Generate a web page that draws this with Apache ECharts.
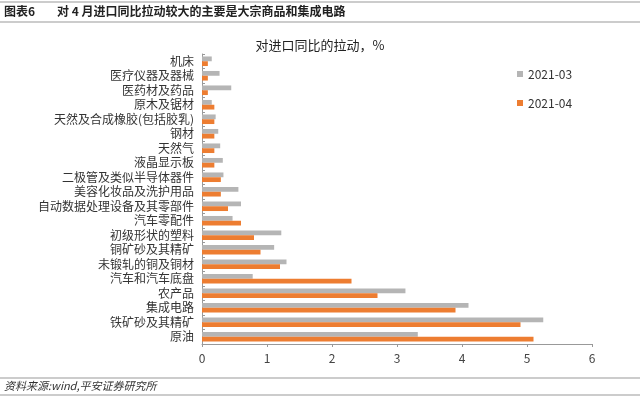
<!DOCTYPE html>
<html><head><meta charset="utf-8">
<script src="https://cdn.jsdelivr.net/npm/echarts@6/dist/echarts.min.js"></script>
<style>html,body{margin:0;padding:0;background:#fff}#c{width:640px;height:397px}</style>
</head><body><div id="c"></div>
<script>
var categories = ['机床','医疗仪器及器械','医药材及药品','原木及锯材','天然及合成橡胶(包括胶乳)','钢材','天然气','液晶显示板','二极管及类似半导体器件','美容化妆品及洗护用品','自动数据处理设备及其零部件','汽车零配件','初级形状的塑料','铜矿砂及其精矿','未锻轧的铜及铜材','汽车和汽车底盘','农产品','集成电路','铁矿砂及其精矿','原油'];
var seriesNames = ['2021-03','2021-04'];
var values2103 = [0.15,0.27,0.45,0.15,0.21,0.25,0.28,0.32,0.33,0.56,0.60,0.47,1.22,1.11,1.30,0.78,3.13,4.10,5.25,3.32];
var values2104 = [0.09,0.09,0.09,0.19,0.19,0.19,0.19,0.19,0.29,0.29,0.40,0.60,0.80,0.90,1.20,2.30,2.70,3.90,4.90,5.10];
var xTicks = [0,1,2,3,4,5,6];

var font = '"Noto Sans CJK SC","Noto Sans",sans-serif';
var chart = echarts.init(document.getElementById('c'));
chart.setOption({
  animation:false,
  textStyle:{fontFamily:font},
  title:{text:'对进口同比的拉动，%',left:'center',top:34,textStyle:{fontSize:13,fontWeight:'normal',color:'#222',fontFamily:font}},
  legend:{orient:'vertical',left:512,top:63,itemWidth:6,itemHeight:6,itemGap:17,icon:'rect',
    textStyle:{fontSize:12,color:'#333',fontFamily:font},data:seriesNames},
  grid:{left:202,right:48,top:54,bottom:53,containLabel:false},
  xAxis:{type:'value',min:xTicks[0],max:xTicks[xTicks.length-1],interval:1,
    axisLine:{show:true,lineStyle:{color:'#999'}},axisTick:{show:true,length:3,lineStyle:{color:'#999'}},
    splitLine:{show:false},axisLabel:{fontSize:12,color:'#444',margin:8}},
  yAxis:{type:'category',data:categories,inverse:true,
    axisLine:{show:true,lineStyle:{color:'#999'}},axisTick:{show:true,inside:true,length:3,lineStyle:{color:'#999'}},
    axisLabel:{fontSize:12,color:'#333',margin:8,interval:0}},
  series:[
    {name:seriesNames[0],type:'bar',data:values2103,itemStyle:{color:'#B5B5B5'},barGap:'0%',barCategoryGap:'34%'},
    {name:seriesNames[1],type:'bar',data:values2104,itemStyle:{color:'#ED7D31'},barGap:'0%',barCategoryGap:'34%'}
  ],
  graphic:[
    {type:'line',shape:{x1:0,y1:2,x2:640,y2:2},style:{stroke:'#999',lineWidth:1}},
    {type:'line',shape:{x1:0,y1:22,x2:640,y2:22},style:{stroke:'#999',lineWidth:1}},
    {type:'text',left:4,top:5,style:{text:'图表6',fontSize:12,fontWeight:'bold',fill:'#222',fontFamily:font}},
    {type:'text',left:57,top:5,style:{text:'对 4 月进口同比拉动较大的主要是大宗商品和集成电路',fontSize:12,fontWeight:'bold',fill:'#222',fontFamily:font}},
    {type:'line',shape:{x1:0,y1:378,x2:640,y2:378},style:{stroke:'#999',lineWidth:1}},
    {type:'line',shape:{x1:0,y1:395,x2:640,y2:395},style:{stroke:'#999',lineWidth:1}},
    {type:'text',left:4,top:380,style:{text:'资料来源:wind,平安证券研究所',fontSize:11,fontStyle:'italic',fill:'#333',fontFamily:font}}
  ]
});
</script></body></html>
